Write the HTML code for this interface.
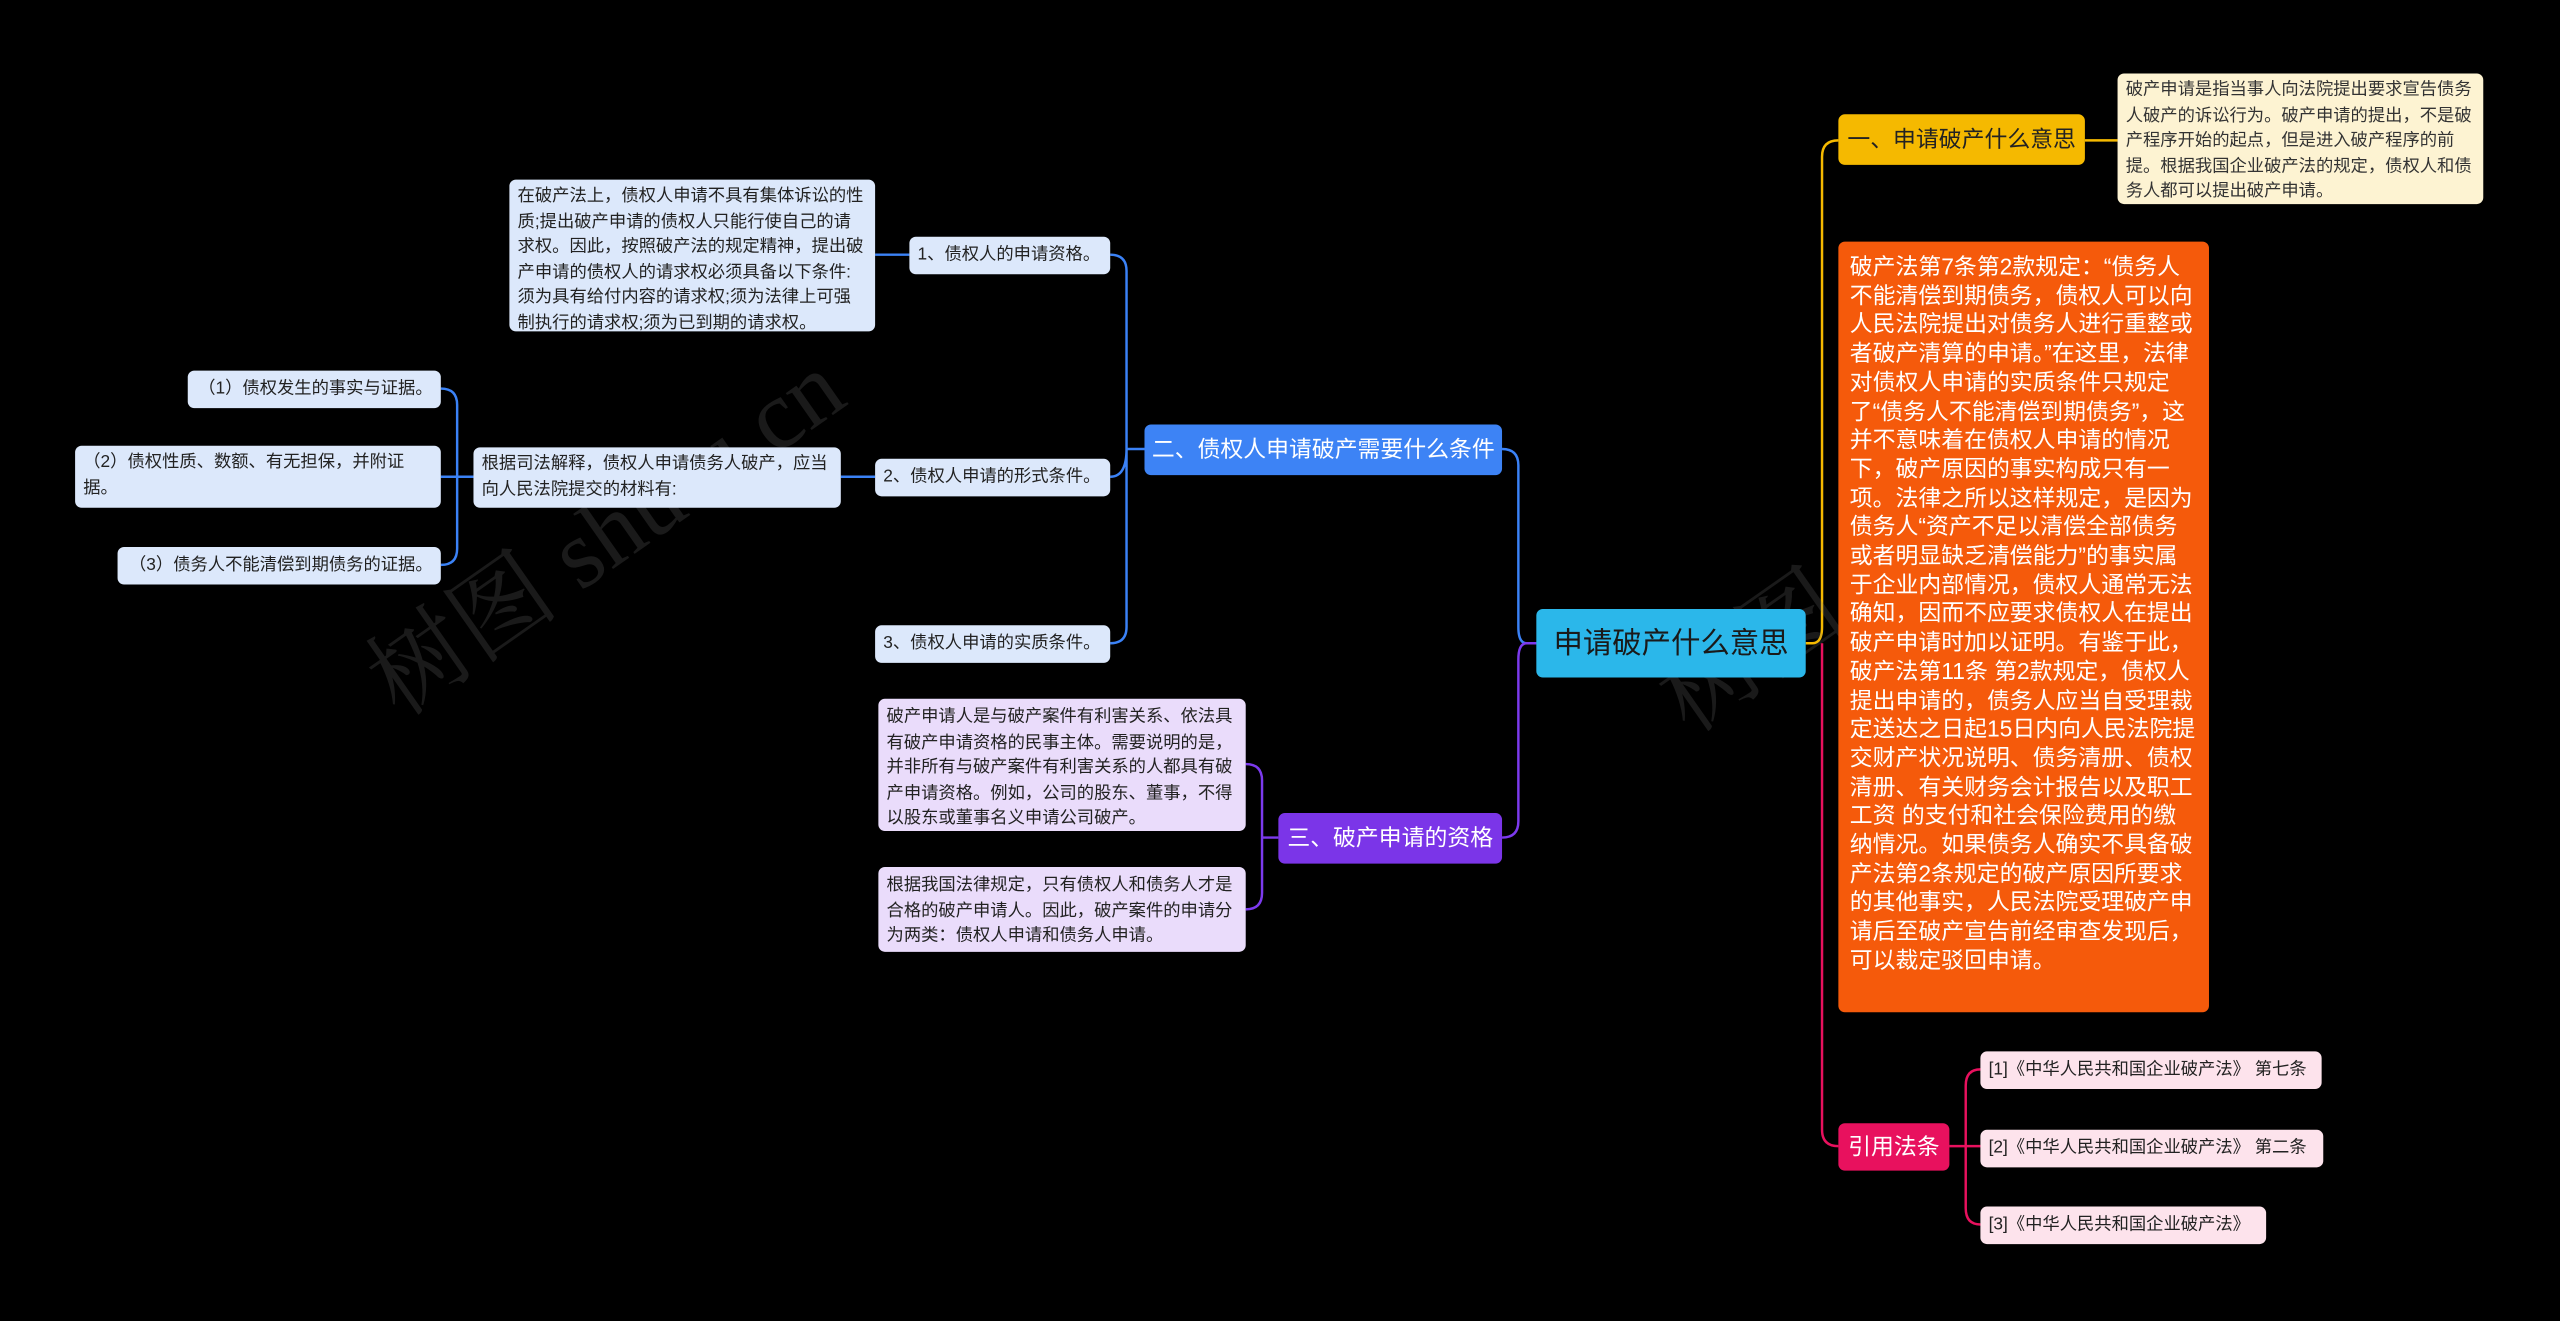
<!DOCTYPE html>
<html><head><meta charset="utf-8"><style>
html,body{margin:0;padding:0;background:#000;}
body{width:2560px;height:1321px;overflow:hidden;}
#c{position:absolute;left:0;top:0;width:1568px;height:809px;transform:scale(1.632653);transform-origin:0 0;font-family:"Liberation Sans","Noto Sans CJK SC",sans-serif;}
.n{position:absolute;box-sizing:border-box;border-radius:4px;}
.lb{background:#dce8fb;color:#222;font-size:10.6px;line-height:15.5px;padding:3px 5px;}
.pp{background:#eadcfb;color:#222;font-size:10.6px;line-height:15.5px;padding:4px 5px;}
.pk{background:#fde3ec;color:#222;font-size:10.6px;line-height:17px;padding:3px 5px;white-space:nowrap;}
.nw{white-space:nowrap;}
svg{position:absolute;left:0;top:0;}
.wm{position:absolute;color:rgba(120,120,120,0.22);font-family:"Liberation Serif","Noto Serif CJK SC",serif;font-size:60px;transform:rotate(-35deg);white-space:nowrap;}
</style></head><body><div id="c">
<svg width="1568" height="809" fill="none" stroke-width="1.5">
<path d="M941 394 H935 Q930 394 930 384 V285 Q930 275 920 275" stroke="#3b82f6"/>
<path d="M941 394 H935 Q930 394 930 404 V503 Q930 513 920 513" stroke="#7c3aed"/>
<path d="M701 275 H690"  stroke="#3b82f6"/>
<path d="M690 275 V166 Q690 156 680 156 M690 275 Q690 292 680 292 M690 275 V384 Q690 394 680 394" stroke="#3b82f6"/>
<path d="M557 156 H536" stroke="#3b82f6"/>
<path d="M536 292 H515" stroke="#3b82f6"/>
<path d="M290 292 H280 M280 248 Q280 238 270 238 M280 248 V336 Q280 346 270 346 M280 292 H270" stroke="#3b82f6"/>
<path d="M783 513 H773 M773 478 Q773 468 763 468 M773 478 V547 Q773 557 763 557" stroke="#7c3aed"/>
<path d="M1106 394 H1110 Q1116 394 1116 384 V96 Q1116 86 1126 86" stroke="#f5b900"/>
<path d="M1116 394 V692 Q1116 702 1126 702" stroke="#e8115e"/>
<path d="M1277 86 H1297" stroke="#f5b900"/>
<path d="M1194 702 H1204 M1204 665 Q1204 655 1213 655 M1204 665 V740 Q1204 750 1213 750 M1204 702 H1213" stroke="#e8115e"/>
</svg>
<div class="wm" style="left:200px;top:280px;">树图 shutu.cn</div>
<div class="wm" style="left:990px;top:290px;">树图 shutu.cn</div>

<div class="n" style="left:941px;top:373px;width:165px;height:42px;background:#2bb7ea;color:#1a1a1a;font-size:18px;line-height:42px;text-align:center;">申请破产什么意思</div>

<div class="n nw" style="left:1126px;top:70px;width:151px;height:31px;background:#f5b900;color:#222;font-size:14px;line-height:31px;text-align:center;">一、申请破产什么意思</div>
<div class="n" style="left:1297px;top:45px;width:224px;height:80px;background:#fdf3d2;color:#333;font-size:10.6px;line-height:15.5px;padding:3px 5px;">破产申请是指当事人向法院提出要求宣告债务人破产的诉讼行为。破产申请的提出，不是破产程序开始的起点，但是进入破产程序的前提。根据我国企业破产法的规定，债权人和债务人都可以提出破产申请。</div>
<div class="n" style="left:1126px;top:148px;width:227px;height:472px;background:#f55a0b;color:#fff;font-size:14px;line-height:17.7px;padding:7px 7px;">破产法第7条第2款规定：“债务人不能清偿到期债务，债权人可以向人民法院提出对债务人进行重整或者破产清算的申请。”在这里，法律对债权人申请的实质条件只规定了“债务人不能清偿到期债务”，这并不意味着在债权人申请的情况下，破产原因的事实构成只有一项。法律之所以这样规定，是因为债务人“资产不足以清偿全部债务或者明显缺乏清偿能力”的事实属于企业内部情况，债权人通常无法确知，因而不应要求债权人在提出破产申请时加以证明。有鉴于此，破产法第11条 第2款规定，债权人提出申请的，债务人应当自受理裁定送达之日起15日内向人民法院提交财产状况说明、债务清册、债权清册、有关财务会计报告以及职工工资 的支付和社会保险费用的缴纳情况。如果债务人确实不具备破产法第2条规定的破产原因所要求的其他事实，人民法院受理破产申请后至破产宣告前经审查发现后， 可以裁定驳回申请。</div>
<div class="n nw" style="left:1126px;top:688px;width:68px;height:29px;background:#e8115e;color:#fff;font-size:14px;line-height:29px;text-align:center;">引用法条</div>
<div class="n pk" style="left:1213px;top:644px;width:209px;height:23px;">[1]《中华人民共和国企业破产法》 第七条</div>
<div class="n pk" style="left:1213px;top:692px;width:210px;height:23px;">[2]《中华人民共和国企业破产法》 第二条</div>
<div class="n pk" style="left:1213px;top:739px;width:175px;height:23px;">[3]《中华人民共和国企业破产法》</div>

<div class="n nw" style="left:701px;top:260px;width:219px;height:31px;background:#3d83f5;color:#fff;font-size:14px;line-height:31px;text-align:center;">二、债权人申请破产需要什么条件</div>
<div class="n lb nw" style="left:557px;top:145px;width:123px;height:23px;line-height:17px;">1、债权人的申请资格。</div>
<div class="n lb nw" style="left:536px;top:281px;width:144px;height:23px;line-height:17px;">2、债权人申请的形式条件。</div>
<div class="n lb nw" style="left:536px;top:383px;width:144px;height:23px;line-height:17px;">3、债权人申请的实质条件。</div>
<div class="n lb" style="left:312px;top:110px;width:224px;height:93px;">在破产法上，债权人申请不具有集体诉讼的性质;提出破产申请的债权人只能行使自己的请求权。因此，按照破产法的规定精神，提出破产申请的债权人的请求权必须具备以下条件:须为具有给付内容的请求权;须为法律上可强制执行的请求权;须为已到期的请求权。</div>
<div class="n lb" style="left:290px;top:274px;width:225px;height:37px;">根据司法解释，债权人申请债务人破产，应当向人民法院提交的材料有:</div>
<div class="n lb nw" style="left:115px;top:227px;width:155px;height:23px;line-height:17px;text-align:right;">（1）债权发生的事实与证据。</div>
<div class="n lb" style="left:46px;top:273px;width:224px;height:38px;">（2）债权性质、数额、有无担保，并附证据。</div>
<div class="n lb nw" style="left:72px;top:335px;width:198px;height:23px;line-height:17px;text-align:right;">（3）债务人不能清偿到期债务的证据。</div>

<div class="n nw" style="left:783px;top:498px;width:137px;height:31px;background:#7b35e8;color:#fff;font-size:14px;line-height:31px;text-align:center;">三、破产申请的资格</div>
<div class="n pp" style="left:538px;top:428px;width:225px;height:81px;">破产申请人是与破产案件有利害关系、依法具有破产申请资格的民事主体。需要说明的是，并非所有与破产案件有利害关系的人都具有破产申请资格。例如，公司的股东、董事，不得以股东或董事名义申请公司破产。</div>
<div class="n pp" style="left:538px;top:531px;width:225px;height:52px;">根据我国法律规定，只有债权人和债务人才是合格的破产申请人。因此，破产案件的申请分为两类：债权人申请和债务人申请。</div>
</div></body></html>
